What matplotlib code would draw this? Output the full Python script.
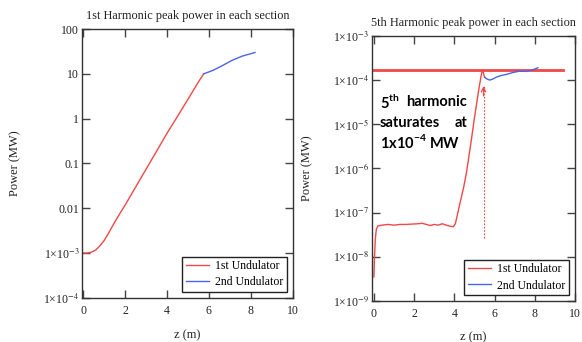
import matplotlib
matplotlib.use("Agg")
import matplotlib.pyplot as plt
from matplotlib.ticker import NullLocator

plt.rcParams['font.family'] = ['Liberation Serif', 'DejaVu Serif']
plt.rcParams['mathtext.fontset'] = 'custom'
plt.rcParams['mathtext.rm'] = 'Lato'
plt.rcParams['mathtext.bf'] = 'Lato:bold'

# 1st harmonic, peak power (MW) vs z (m)
z1_und1 = [0.0, 0.2, 0.4, 0.6, 0.8, 1.0, 1.2, 1.4, 1.6, 1.8, 2.0, 2.5, 3.0,
           3.5, 4.0, 4.5, 5.0, 5.5, 5.75]
p1_und1 = [1.0e-3, 1.0e-3, 1.05e-3, 1.17e-3, 1.45e-3, 1.9e-3, 2.7e-3, 4.0e-3,
           5.8e-3, 8.3e-3, 1.17e-2, 2.95e-2, 7.4e-2, 0.186, 0.47, 1.12, 2.7,
           6.6, 10.0]
z1_und2 = [5.75, 6.2, 6.7, 7.1, 7.6, 8.2]
p1_und2 = [10.0, 12.0, 15.8, 20.0, 25.0, 30.0]

# 5th harmonic, peak power (MW) vs z (m)
z5_und1 = [0.0, 0.03, 0.07, 0.12, 0.2, 0.4, 0.7, 1.0, 1.3, 1.6, 1.9, 2.2,
           2.4, 2.6, 2.8, 3.0, 3.2, 3.4, 3.6, 3.8, 3.95, 4.05, 4.15, 4.3,
           4.45, 4.6, 4.8, 5.0, 5.2, 5.35, 5.4, 5.5]
p5_und1 = [3.5e-9, 1.0e-8, 2.5e-8, 4.2e-8, 5.0e-8, 5.2e-8, 5.4e-8, 5.2e-8,
           5.4e-8, 5.4e-8, 5.5e-8, 5.6e-8, 5.75e-8, 5.4e-8, 5.1e-8, 5.4e-8,
           5.2e-8, 5.6e-8, 5.2e-8, 4.9e-8, 4.8e-8, 5.6e-8, 8.9e-8, 1.8e-7,
           3.5e-7, 7.9e-7, 3.2e-6, 1.4e-5, 5.6e-5, 1.4e-4, 1.7e-4, 1.17e-4]
z5_und2 = [5.5, 5.6, 5.75, 5.9, 6.1, 6.3, 6.6, 6.9, 7.2, 7.5, 7.8, 8.0, 8.15]
p5_und2 = [1.17e-4, 1.07e-4, 1.0e-4, 1.05e-4, 1.17e-4, 1.26e-4, 1.35e-4,
           1.48e-4, 1.58e-4, 1.58e-4, 1.66e-4, 1.78e-4, 1.9e-4]
p5_sat = 1.7e-4
z_arrow = 5.45
arrow_span = [2.7e-8, 7.3e-5]

x_ticks = [0, 2, 4, 6, 8, 10]
y1_ticks = [1e2, 1e1, 1e0, 1e-1, 1e-2, 1e-3, 1e-4]
y1_labels = ['100', '10', '1', '0.1', '0.01', '1×10$^{-3}$', '1×10$^{-4}$']
y5_ticks = [1e-3, 1e-4, 1e-5, 1e-6, 1e-7, 1e-8, 1e-9]
y5_labels = ['1×10$^{-%d}$' % n for n in range(3, 10)]

RED = '#f04848'
BLUE = '#4a62f0'
EDGE = '#333333'

fig = plt.figure(figsize=(5.82, 3.42), dpi=100)
ax1 = fig.add_axes([0.141, 0.129, 0.362, 0.786])
ax5 = fig.add_axes([0.639, 0.120, 0.349, 0.775])


def style_axes(ax, yticks, ylabels, title, xlim):
    ax.set_yscale('log')
    ax.set_xlim(*xlim)
    ax.set_ylim(min(yticks), max(yticks))
    ax.set_xticks(x_ticks)
    ax.set_yticks(yticks, ylabels, math_fontfamily='stix')
    ax.yaxis.set_minor_locator(NullLocator())
    ax.xaxis.set_minor_locator(NullLocator())
    ax.tick_params(direction='in', length=6, width=1, color='#444444',
                   top=True, right=True, labelsize=8.5, labelcolor='#222222')
    ax.tick_params(axis='y', pad=2)
    ax.tick_params(axis='x', pad=5)
    for s in ax.spines.values():
        s.set_color(EDGE)
        s.set_linewidth(1.0)
    ax.set_title(title, fontsize=8.8, pad=7, color='#222222')
    ax.set_xlabel('z (m)', fontsize=9, color='#222222')
    ax.set_ylabel('Power (MW)', fontsize=9, color='#222222')
    ax.xaxis.set_label_coords(0.5, -0.115)
    ax.yaxis.set_label_coords(-0.29, 0.5)
    leg = ax.legend(loc='lower right', fontsize=8.5, fancybox=False,
                    framealpha=1, edgecolor='#222222', borderaxespad=0.5,
                    handlelength=2.0, handletextpad=0.5, borderpad=0.3,
                    labelspacing=0.35)
    leg.get_frame().set_linewidth(1.0)


# left: fundamental
ax1.plot(z1_und1, p1_und1, color=RED, lw=1, label='1st Undulator')
ax1.plot(z1_und2, p1_und2, color=BLUE, lw=1, label='2nd Undulator')
style_axes(ax1, y1_ticks, y1_labels,
           '1st Harmonic peak power in each section', (-0.05, 10))

# right: 5th harmonic
ax5.plot([-0.1, 9.4], [p5_sat, p5_sat], color=RED, lw=2)
ax5.plot(z5_und1, p5_und1, color=RED, lw=1, label='1st Undulator')
ax5.plot(z5_und2, p5_und2, color=BLUE, lw=1, label='2nd Undulator')
ax5.plot([z_arrow, z_arrow], arrow_span, color=RED, lw=0.8, ls=(0, (1.5, 1.5)))
ax5.annotate('', xy=(z_arrow, arrow_span[1]), xytext=(z_arrow, arrow_span[1] * 0.6),
             arrowprops=dict(arrowstyle='->', color=RED, lw=0.9,
                             mutation_scale=8, shrinkA=0, shrinkB=0))
style_axes(ax5, y5_ticks, y5_labels,
           '5th Harmonic peak power in each section', (-0.1, 10))

txt = dict(transform=ax5.transAxes, family='Lato', fontweight='bold',
           fontsize=10.5, color='black', va='center')
ax5.text(0.04, 0.752, r'5$^{\mathbf{th}}$', ha='left', **txt)
ax5.text(0.47, 0.752, 'harmonic', ha='right', **txt)
ax5.text(0.04, 0.672, 'saturates', ha='left', **txt)
ax5.text(0.47, 0.672, 'at', ha='right', **txt)
ax5.text(0.04, 0.598, r'1x10$^{\mathbf{-4}}$ MW', ha='left', **txt)

fig.savefig('out.png', dpi=100)
